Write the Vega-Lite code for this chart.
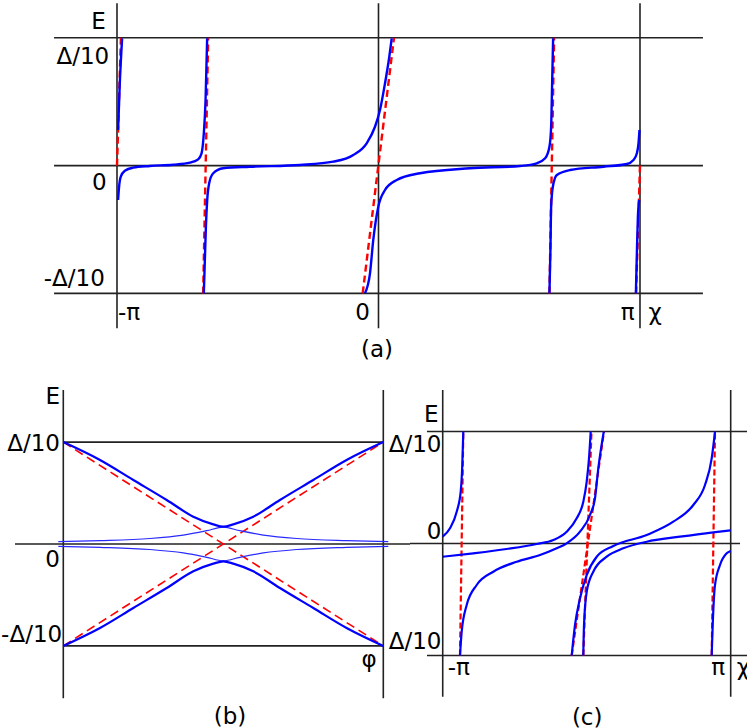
{
  "$schema": "https://vega.github.io/schema/vega-lite/v6.json",
  "padding": 0,
  "spacing": 0,
  "bounds": "flush",
  "config": {
    "view": {"stroke": null},
    "concat": {"spacing": 0},
    "text": {"font": "DejaVu Sans", "fontSize": 23, "color": "#000000", "baseline": "middle"}
  },
  "datasets": {
    "a_black": [
      {"x1": -1.2407, "y1": 1, "x2": 1.2407, "y2": 1},
      {"x1": -1.2407, "y1": 0, "x2": 1.2407, "y2": 0},
      {"x1": -1.2407, "y1": -1, "x2": 1.2407, "y2": -1},
      {"x1": -1, "y1": 1.27, "x2": -1, "y2": -1.273},
      {"x1": 0, "y1": 1.27, "x2": 0, "y2": -1.273},
      {"x1": 1, "y1": 1.27, "x2": 1, "y2": -1.273}
    ],
    "a_red": [
      {"x1": -1, "y1": 0, "x2": -0.985, "y2": 1},
      {"x1": -0.6705, "y1": -1, "x2": -0.6513, "y2": 1},
      {"x1": -0.0605, "y1": -1, "x2": 0.0593, "y2": 1},
      {"x1": 0.6537, "y1": -1, "x2": 0.6716, "y2": 1},
      {"x1": 0.985, "y1": -1, "x2": 1, "y2": 0}
    ],
    "a_blue": [
      {"c": "A1", "u": -0.9958, "v": 0.2786},
      {"c": "A1", "u": -0.9893, "v": 0.644},
      {"c": "A1", "u": -0.9805, "v": 0.996},
      {"c": "A2", "u": -0.9958, "v": -0.269},
      {"c": "A2", "u": -0.992, "v": -0.165},
      {"c": "A2", "u": -0.9855, "v": -0.087},
      {"c": "A2", "u": -0.97, "v": -0.04},
      {"c": "A2", "u": -0.9384, "v": -0.016},
      {"c": "A2", "u": -0.8745, "v": -0.003},
      {"c": "A2", "u": -0.7853, "v": 0.007},
      {"c": "A2", "u": -0.7214, "v": 0.023},
      {"c": "A2", "u": -0.6896, "v": 0.049},
      {"c": "A2", "u": -0.6766, "v": 0.096},
      {"c": "A2", "u": -0.668, "v": 0.253},
      {"c": "A2", "u": -0.6613, "v": 0.513},
      {"c": "A2", "u": -0.6552, "v": 0.996},
      {"c": "A3", "u": -0.668, "v": -0.999},
      {"c": "A3", "u": -0.664, "v": -0.739},
      {"c": "A3", "u": -0.66, "v": -0.478},
      {"c": "A3", "u": -0.655, "v": -0.269},
      {"c": "A3", "u": -0.6475, "v": -0.1385},
      {"c": "A3", "u": -0.632, "v": -0.06},
      {"c": "A3", "u": -0.594, "v": -0.021},
      {"c": "A3", "u": -0.4917, "v": -0.009},
      {"c": "A3", "u": -0.3004, "v": 0.005},
      {"c": "A3", "u": -0.173, "v": 0.031},
      {"c": "A3", "u": -0.0964, "v": 0.083},
      {"c": "A3", "u": -0.0452, "v": 0.1745},
      {"c": "A3", "u": -0.0134, "v": 0.304},
      {"c": "A3", "u": 0.0057, "v": 0.435},
      {"c": "A3", "u": 0.0249, "v": 0.644},
      {"c": "A3", "u": 0.0413, "v": 0.852},
      {"c": "A3", "u": 0.0505, "v": 0.996},
      {"c": "A4", "u": -0.0517, "v": -0.999},
      {"c": "A4", "u": -0.0325, "v": -0.843},
      {"c": "A4", "u": -0.02, "v": -0.582},
      {"c": "A4", "u": -0.0008, "v": -0.322},
      {"c": "A4", "u": 0.0249, "v": -0.191},
      {"c": "A4", "u": 0.0697, "v": -0.113},
      {"c": "A4", "u": 0.1588, "v": -0.06},
      {"c": "A4", "u": 0.3502, "v": -0.021},
      {"c": "A4", "u": 0.5415, "v": -0.003},
      {"c": "A4", "u": 0.6054, "v": 0.018},
      {"c": "A4", "u": 0.6372, "v": 0.057},
      {"c": "A4", "u": 0.6537, "v": 0.148},
      {"c": "A4", "u": 0.6602, "v": 0.304},
      {"c": "A4", "u": 0.664, "v": 0.644},
      {"c": "A4", "u": 0.6678, "v": 0.996},
      {"c": "A5", "u": 0.6537, "v": -0.999},
      {"c": "A5", "u": 0.6575, "v": -0.66},
      {"c": "A5", "u": 0.6602, "v": -0.322},
      {"c": "A5", "u": 0.6667, "v": -0.165},
      {"c": "A5", "u": 0.682, "v": -0.0736},
      {"c": "A5", "u": 0.7329, "v": -0.0344},
      {"c": "A5", "u": 0.8603, "v": -0.0086},
      {"c": "A5", "u": 0.9499, "v": 0.0125},
      {"c": "A5", "u": 0.9751, "v": 0.0438},
      {"c": "A5", "u": 0.9881, "v": 0.0962},
      {"c": "A5", "u": 0.9943, "v": 0.1745},
      {"c": "A5", "u": 0.998, "v": 0.2786},
      {"c": "A6", "u": 0.9843, "v": -0.999},
      {"c": "A6", "u": 0.9881, "v": -0.686},
      {"c": "A6", "u": 0.992, "v": -0.4},
      {"c": "A6", "u": 0.9969, "v": -0.269}
    ],
    "a_text_r": [
      {"x": -1.0425, "y": 1.12, "t": "E"},
      {"x": -1.03, "y": 0.852, "t": "Δ/10"},
      {"x": -1.04, "y": -0.1385, "t": "0"},
      {"x": -1.0467, "y": -0.891, "t": "-Δ/10"},
      {"x": -0.0325, "y": -1.156, "t": "0"},
      {"x": 0.979, "y": -1.156, "t": "π"}
    ],
    "a_text_l": [
      {"x": -0.996, "y": -1.156, "t": "-π"},
      {"x": 1.0325, "y": -1.156, "t": "χ"}
    ],
    "a_text_c": [
      {"x": -0.006, "y": -1.443, "t": "(a)"}
    ],
    "b_black": [
      {"x1": 0, "y1": 1, "x2": 1, "y2": 1},
      {"x1": -0.151, "y1": 0, "x2": 1.0834, "y2": 0},
      {"x1": 0, "y1": -1, "x2": 1, "y2": -1},
      {"x1": 0, "y1": 1.511, "x2": 0, "y2": -1.514},
      {"x1": 1, "y1": 1.511, "x2": 1, "y2": -1.514}
    ],
    "b_red": [
      {"x1": 0, "y1": 1, "x2": 1, "y2": -1},
      {"x1": 0, "y1": -1, "x2": 1, "y2": 1}
    ],
    "b_thick": [
      {"c": "up", "u": 0, "v": 1},
      {"c": "up", "u": 0.1147, "v": 0.824},
      {"c": "up", "u": 0.2188, "v": 0.628},
      {"c": "up", "u": 0.3231, "v": 0.432},
      {"c": "up", "u": 0.4063, "v": 0.268},
      {"c": "up", "u": 0.4688, "v": 0.193},
      {"c": "up", "u": 0.5, "v": 0.17},
      {"c": "up", "u": 0.5312, "v": 0.193},
      {"c": "up", "u": 0.5937, "v": 0.268},
      {"c": "up", "u": 0.6769, "v": 0.432},
      {"c": "up", "u": 0.7812, "v": 0.628},
      {"c": "up", "u": 0.8853, "v": 0.824},
      {"c": "up", "u": 1, "v": 1},
      {"c": "lo", "u": 0, "v": -1},
      {"c": "lo", "u": 0.1147, "v": -0.824},
      {"c": "lo", "u": 0.2188, "v": -0.628},
      {"c": "lo", "u": 0.3231, "v": -0.432},
      {"c": "lo", "u": 0.4063, "v": -0.268},
      {"c": "lo", "u": 0.4688, "v": -0.193},
      {"c": "lo", "u": 0.5, "v": -0.17},
      {"c": "lo", "u": 0.5312, "v": -0.193},
      {"c": "lo", "u": 0.5937, "v": -0.268},
      {"c": "lo", "u": 0.6769, "v": -0.432},
      {"c": "lo", "u": 0.7812, "v": -0.628},
      {"c": "lo", "u": 0.8853, "v": -0.824},
      {"c": "lo", "u": 1, "v": -1}
    ],
    "b_thin": [
      {"c": "up", "u": -0.0156, "v": 0.0226},
      {"c": "up", "u": 0.1147, "v": 0.0324},
      {"c": "up", "u": 0.2709, "v": 0.054},
      {"c": "up", "u": 0.375, "v": 0.088},
      {"c": "up", "u": 0.4481, "v": 0.1305},
      {"c": "up", "u": 0.5, "v": 0.165},
      {"c": "up", "u": 0.5519, "v": 0.1305},
      {"c": "up", "u": 0.625, "v": 0.088},
      {"c": "up", "u": 0.7291, "v": 0.054},
      {"c": "up", "u": 0.8853, "v": 0.0324},
      {"c": "up", "u": 1.0156, "v": 0.0226},
      {"c": "lo", "u": -0.0156, "v": -0.0226},
      {"c": "lo", "u": 0.1147, "v": -0.0324},
      {"c": "lo", "u": 0.2709, "v": -0.054},
      {"c": "lo", "u": 0.375, "v": -0.088},
      {"c": "lo", "u": 0.4481, "v": -0.1305},
      {"c": "lo", "u": 0.5, "v": -0.165},
      {"c": "lo", "u": 0.5519, "v": -0.1305},
      {"c": "lo", "u": 0.625, "v": -0.088},
      {"c": "lo", "u": 0.7291, "v": -0.054},
      {"c": "lo", "u": 0.8853, "v": -0.0324},
      {"c": "lo", "u": 1.0156, "v": -0.0226}
    ],
    "b_text_r": [
      {"x": -0.0103, "y": 1.44, "t": "E"},
      {"x": -0.0103, "y": 0.981, "t": "Δ/10"},
      {"x": -0.0103, "y": -0.157, "t": "0"},
      {"x": -0.0035, "y": -0.893, "t": "-Δ/10"},
      {"x": 0.9794, "y": -1.138, "t": "φ"}
    ],
    "b_text_c": [
      {"x": 0.5209, "y": -1.695, "t": "(b)"}
    ],
    "c_black": [
      {"x1": -1.274, "y1": 1, "x2": 1.266, "y2": 1},
      {"x1": -1.4087, "y1": 0, "x2": 1.2103, "y2": 0},
      {"x1": -1.274, "y1": -1, "x2": 1.266, "y2": -1},
      {"x1": -1.149, "y1": 1.37, "x2": -1.149, "y2": -1.368},
      {"x1": 1.1365, "y1": 1.37, "x2": 1.1365, "y2": -1.368}
    ],
    "c_red": [
      {"x1": -1.0119, "y1": -1, "x2": -0.9857, "y2": 1},
      {"x1": -0.1254, "y1": -1, "x2": 0.131, "y2": 1},
      {"x1": -0.0333, "y1": -1, "x2": 0.0317, "y2": 1},
      {"x1": 0.9857, "y1": -1, "x2": 1.0119, "y2": 1}
    ],
    "c_blue": [
      {"c": "C1", "u": -1.149, "v": 0.0607},
      {"c": "C1", "u": -1.0913, "v": 0.1357},
      {"c": "C1", "u": -1.0381, "v": 0.284},
      {"c": "C1", "u": -1.0063, "v": 0.4625},
      {"c": "C1", "u": -0.9937, "v": 0.7009},
      {"c": "C1", "u": -0.9857, "v": 1},
      {"c": "C2", "u": -1.149, "v": -0.1179},
      {"c": "C2", "u": -0.9063, "v": -0.0875},
      {"c": "C2", "u": -0.6413, "v": -0.0491},
      {"c": "C2", "u": -0.4032, "v": -0.0045},
      {"c": "C2", "u": -0.2714, "v": 0.0313},
      {"c": "C2", "u": -0.1651, "v": 0.1054},
      {"c": "C2", "u": -0.0857, "v": 0.225},
      {"c": "C2", "u": -0.0333, "v": 0.3732},
      {"c": "C2", "u": -0.0063, "v": 0.5518},
      {"c": "C2", "u": 0.0119, "v": 0.7607},
      {"c": "C2", "u": 0.0254, "v": 1},
      {"c": "C3", "u": -1.0119, "v": -1},
      {"c": "C3", "u": -0.9984, "v": -0.7875},
      {"c": "C3", "u": -0.9587, "v": -0.5491},
      {"c": "C3", "u": -0.8794, "v": -0.3705},
      {"c": "C3", "u": -0.7476, "v": -0.2518},
      {"c": "C3", "u": -0.5619, "v": -0.1625},
      {"c": "C3", "u": -0.377, "v": -0.1027},
      {"c": "C3", "u": -0.2444, "v": -0.0429},
      {"c": "C3", "u": -0.1651, "v": 0.0018},
      {"c": "C3", "u": -0.0595, "v": 0.1054},
      {"c": "C3", "u": 0.0198, "v": 0.2545},
      {"c": "C3", "u": 0.0595, "v": 0.4036},
      {"c": "C3", "u": 0.0857, "v": 0.6714},
      {"c": "C3", "u": 0.1294, "v": 1},
      {"c": "D1", "u": -0.1254, "v": -1},
      {"c": "D1", "u": -0.0992, "v": -0.7277},
      {"c": "D1", "u": -0.0595, "v": -0.4893},
      {"c": "D1", "u": -0.0063, "v": -0.2813},
      {"c": "D1", "u": 0.073, "v": -0.1179},
      {"c": "D1", "u": 0.2048, "v": -0.0223},
      {"c": "D1", "u": 0.4698, "v": 0.0759},
      {"c": "D1", "u": 0.681, "v": 0.1946},
      {"c": "D1", "u": 0.8397, "v": 0.3438},
      {"c": "D1", "u": 0.9325, "v": 0.5223},
      {"c": "D1", "u": 0.9857, "v": 0.7607},
      {"c": "D1", "u": 1.0119, "v": 1},
      {"c": "D2", "u": -0.0333, "v": -1},
      {"c": "D2", "u": -0.0278, "v": -0.7277},
      {"c": "D2", "u": -0.0063, "v": -0.4304},
      {"c": "D2", "u": 0.046, "v": -0.2518},
      {"c": "D2", "u": 0.1524, "v": -0.1179},
      {"c": "D2", "u": 0.2841, "v": -0.0429},
      {"c": "D2", "u": 0.4698, "v": 0.0161},
      {"c": "D2", "u": 0.7341, "v": 0.0607},
      {"c": "D2", "u": 0.9984, "v": 0.1},
      {"c": "D2", "u": 1.1365, "v": 0.1179},
      {"c": "C5", "u": 0.9857, "v": -1},
      {"c": "C5", "u": 0.9937, "v": -0.7277},
      {"c": "C5", "u": 1.0119, "v": -0.3705},
      {"c": "C5", "u": 1.0516, "v": -0.192},
      {"c": "C5", "u": 1.1048, "v": -0.0875},
      {"c": "C5", "u": 1.1365, "v": -0.067}
    ],
    "c_text_r": [
      {"x": -1.1825, "y": 1.147, "t": "E"},
      {"x": -1.1587, "y": 0.88, "t": "Δ/10"},
      {"x": -1.1587, "y": 0.105, "t": "0"},
      {"x": -1.1587, "y": -0.877, "t": "Δ/10"},
      {"x": 1.0913, "y": -1.1116, "t": "π"}
    ],
    "c_text_l": [
      {"x": -1.1095, "y": -1.1116, "t": "-π"},
      {"x": 1.184, "y": -1.1116, "t": "χ"}
    ],
    "c_text_c": [
      {"x": -0.0024, "y": -1.5607, "t": "(c)"}
    ]
  },
  "vconcat": [
    {
      "width": 747,
      "height": 360,
      "layer": [
        {
          "data": {"name": "a_black"},
          "mark": {"type": "rule", "color": "#222222", "strokeWidth": 1.6},
          "encoding": {
            "x": {"field": "x1", "type": "quantitative", "scale": {"domain": [-1.4474, 1.4092], "nice": false, "zero": false}, "axis": null},
            "y": {"field": "y1", "type": "quantitative", "scale": {"domain": [-1.5211, 1.2958], "nice": false, "zero": false}, "axis": null},
            "x2": {"field": "x2"},
            "y2": {"field": "y2"}
          }
        },
        {
          "data": {"name": "a_red"},
          "mark": {"type": "rule", "color": "#ff0000", "strokeWidth": 2.4, "strokeDash": [7, 4]},
          "encoding": {
            "x": {"field": "x1", "type": "quantitative", "axis": null},
            "y": {"field": "y1", "type": "quantitative", "axis": null},
            "x2": {"field": "x2"},
            "y2": {"field": "y2"}
          }
        },
        {
          "data": {"name": "a_blue"},
          "mark": {"type": "line", "color": "#0000ff", "strokeWidth": 2.4, "interpolate": "monotone"},
          "encoding": {
            "x": {"field": "u", "type": "quantitative", "axis": null},
            "y": {"field": "v", "type": "quantitative", "axis": null},
            "detail": {"field": "c", "type": "nominal"}
          }
        },
        {
          "data": {"name": "a_text_r"},
          "mark": {"type": "text", "align": "right"},
          "encoding": {
            "x": {"field": "x", "type": "quantitative", "axis": null},
            "y": {"field": "y", "type": "quantitative", "axis": null},
            "text": {"field": "t"}
          }
        },
        {
          "data": {"name": "a_text_l"},
          "mark": {"type": "text", "align": "left"},
          "encoding": {
            "x": {"field": "x", "type": "quantitative", "axis": null},
            "y": {"field": "y", "type": "quantitative", "axis": null},
            "text": {"field": "t"}
          }
        },
        {
          "data": {"name": "a_text_c"},
          "mark": {"type": "text", "align": "center"},
          "encoding": {
            "x": {"field": "x", "type": "quantitative", "axis": null},
            "y": {"field": "y", "type": "quantitative", "axis": null},
            "text": {"field": "t"}
          }
        }
      ]
    },
    {
      "spacing": 0,
      "bounds": "flush",
      "hconcat": [
        {
          "width": 410,
          "height": 368,
          "layer": [
            {
              "data": {"name": "b_black"},
              "mark": {"type": "rule", "color": "#222222", "strokeWidth": 1.6},
              "encoding": {
                "x": {"field": "x1", "type": "quantitative", "scale": {"domain": [-0.1978, 1.0834], "nice": false, "zero": false}, "axis": null},
                "y": {"field": "y1", "type": "quantitative", "scale": {"domain": [-1.8057, 1.8057], "nice": false, "zero": false}, "axis": null},
                "x2": {"field": "x2"},
                "y2": {"field": "y2"}
              }
            },
            {
              "data": {"name": "b_red"},
              "mark": {"type": "rule", "color": "#ff0000", "strokeWidth": 1.6, "strokeDash": [9, 5]},
              "encoding": {
                "x": {"field": "x1", "type": "quantitative", "axis": null},
                "y": {"field": "y1", "type": "quantitative", "axis": null},
                "x2": {"field": "x2"},
                "y2": {"field": "y2"}
              }
            },
            {
              "data": {"name": "b_thin"},
              "mark": {"type": "line", "color": "#2a2aff", "strokeWidth": 1.2, "interpolate": "monotone"},
              "encoding": {
                "x": {"field": "u", "type": "quantitative", "axis": null},
                "y": {"field": "v", "type": "quantitative", "axis": null},
                "detail": {"field": "c", "type": "nominal"}
              }
            },
            {
              "data": {"name": "b_thick"},
              "mark": {"type": "line", "color": "#0000ff", "strokeWidth": 2.2, "interpolate": "monotone"},
              "encoding": {
                "x": {"field": "u", "type": "quantitative", "axis": null},
                "y": {"field": "v", "type": "quantitative", "axis": null},
                "detail": {"field": "c", "type": "nominal"}
              }
            },
            {
              "data": {"name": "b_text_r"},
              "mark": {"type": "text", "align": "right"},
              "encoding": {
                "x": {"field": "x", "type": "quantitative", "axis": null},
                "y": {"field": "y", "type": "quantitative", "axis": null},
                "text": {"field": "t"}
              }
            },
            {
              "data": {"name": "b_text_c"},
              "mark": {"type": "text", "align": "center"},
              "encoding": {
                "x": {"field": "x", "type": "quantitative", "axis": null},
                "y": {"field": "y", "type": "quantitative", "axis": null},
                "text": {"field": "t"}
              }
            }
          ]
        },
        {
          "width": 337,
          "height": 368,
          "layer": [
            {
              "data": {"name": "c_black"},
              "mark": {"type": "rule", "color": "#222222", "strokeWidth": 1.6},
              "encoding": {
                "x": {"field": "x1", "type": "quantitative", "scale": {"domain": [-1.4087, 1.2659], "nice": false, "zero": false}, "axis": null},
                "y": {"field": "y1", "type": "quantitative", "scale": {"domain": [-1.6473, 1.6384], "nice": false, "zero": false}, "axis": null},
                "x2": {"field": "x2"},
                "y2": {"field": "y2"}
              }
            },
            {
              "data": {"name": "c_red"},
              "mark": {"type": "rule", "color": "#ff0000", "strokeWidth": 2.2, "strokeDash": [6, 3]},
              "encoding": {
                "x": {"field": "x1", "type": "quantitative", "axis": null},
                "y": {"field": "y1", "type": "quantitative", "axis": null},
                "x2": {"field": "x2"},
                "y2": {"field": "y2"}
              }
            },
            {
              "data": {"name": "c_blue"},
              "mark": {"type": "line", "color": "#0000ff", "strokeWidth": 2.2, "interpolate": "monotone"},
              "encoding": {
                "x": {"field": "u", "type": "quantitative", "axis": null},
                "y": {"field": "v", "type": "quantitative", "axis": null},
                "detail": {"field": "c", "type": "nominal"}
              }
            },
            {
              "data": {"name": "c_text_r"},
              "mark": {"type": "text", "align": "right"},
              "encoding": {
                "x": {"field": "x", "type": "quantitative", "axis": null},
                "y": {"field": "y", "type": "quantitative", "axis": null},
                "text": {"field": "t"}
              }
            },
            {
              "data": {"name": "c_text_l"},
              "mark": {"type": "text", "align": "left"},
              "encoding": {
                "x": {"field": "x", "type": "quantitative", "axis": null},
                "y": {"field": "y", "type": "quantitative", "axis": null},
                "text": {"field": "t"}
              }
            },
            {
              "data": {"name": "c_text_c"},
              "mark": {"type": "text", "align": "center"},
              "encoding": {
                "x": {"field": "x", "type": "quantitative", "axis": null},
                "y": {"field": "y", "type": "quantitative", "axis": null},
                "text": {"field": "t"}
              }
            }
          ]
        }
      ]
    }
  ]
}
